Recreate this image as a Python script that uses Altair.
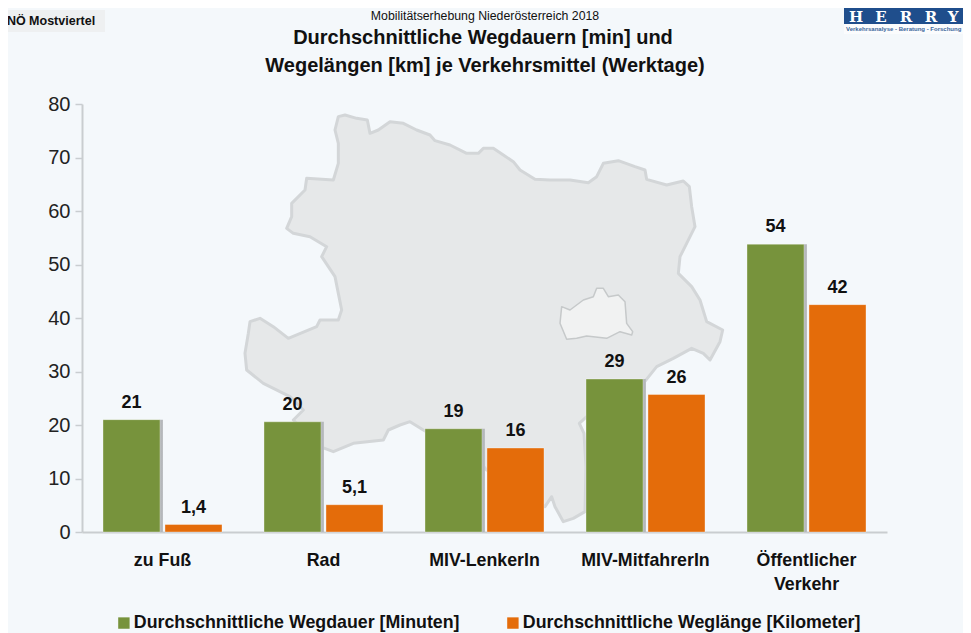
import altair as alt
import pandas as pd

categories = ["zu Fuß", "Rad", "MIV-LenkerIn", "MIV-MitfahrerIn", "Öffentlicher Verkehr"]
series_names = ["Durchschnittliche Wegdauer [Minuten]", "Durchschnittliche Weglänge [Kilometer]"]
dauer = [21.0, 20.6, 19.3, 28.6, 53.8]
laenge = [1.4, 5.1, 15.7, 25.7, 42.5]
dauer_labels = ["21", "20", "19", "29", "54"]
laenge_labels = ["1,4", "5,1", "16", "26", "42"]

land_x = [325,345,380,412,420,445,480,520,560,600,615,660,710,745,760,790,820,850,870,915,960,1020,1075,1100,1120,1165,1215,1245,1250,1310,1360,1378,1385,1395,1370,1350,1345,1385,1410,1430,1478,1470,1440,1420,1385,1330,1280,1240,1150,1070,1048,1062,1068,1065,1030,1000,975,965,945,770,752,580,540,510,475,460,370,310,270,190,220,180,100,50,45,55,60,90,130,175,260,270,325,335,325,315,275,290,240,190,170,185,185,225,230,310,325,325,315,325]
land_y = [50,45,55,60,100,90,65,70,90,105,122,135,160,160,145,145,165,185,210,238,240,240,248,230,190,182,200,210,238,255,243,260,320,380,430,470,520,560,600,665,690,725,780,760,745,775,800,850,900,950,970,1000,1100,1235,1255,1265,1220,1190,1220,1110,1090,990,965,975,990,1020,1030,1055,1040,960,930,890,850,810,760,700,665,655,680,715,680,660,660,630,580,530,470,440,410,400,385,350,310,270,235,240,190,130,90,50]
wien_x = [995,1020,1060,1090,1100,1120,1135,1165,1185,1190,1208,1205,1170,1130,1070,1040,1010,990,995]
wien_y = [620,630,600,590,565,565,590,585,605,670,695,705,695,715,708,715,718,670,620]

head_small = "Mobilitätserhebung Niederösterreich 2018"
head_lines = ["Durchschnittliche Wegdauern [min] und", "Wegelängen [km] je Verkehrsmittel (Werktage)"]
badge = "NÖ Mostviertel"
logo_letters = ["H", "E", "R", "R", "Y"]
logo_sub = "Verkehrsanalyse - Beratung - Forschung"

SANS = "Liberation Sans"
BG = "#f4f8fb"
GREEN = "#77933c"
ORANGE = "#e46c0a"
AX = "#c9cdd0"
OX, OY = 82, 104


def feature(xs, ys):
    return {"type": "Feature", "properties": {},
            "geometry": {"type": "Polygon", "coordinates": [[[a, b] for a, b in zip(xs, ys)]]}}


def shape(xs, ys, fill, stroke, sw):
    return alt.Chart(alt.Data(values=[feature(xs, ys)])).mark_geoshape(
        fill=fill, stroke=stroke, strokeWidth=sw, strokeJoin="round"
    ).project(type="identity", scale=1 / 3, translate=[230 - OX, 100 - OY])


def note(text, x, y, size, bold=False, color="#111111", font=SANS, align="center"):
    return alt.Chart(pd.DataFrame({"t": [text]})).mark_text(
        font=font, fontSize=size, fontWeight="bold" if bold else "normal",
        color=color, align=align, baseline="middle"
    ).encode(text="t:N", x=alt.value(x - OX), y=alt.value(y - OY))


def box(x0, x1, y0, y1, color):
    return alt.Chart(pd.DataFrame({"a": [0]})).mark_rect(color=color).encode(
        x=alt.value(x0 - OX), x2=alt.value(x1 - OX), y=alt.value(y0 - OY), y2=alt.value(y1 - OY))


rows = []
for i, c in enumerate(categories):
    rows.append({"cat": c, "series": series_names[0], "v": dauer[i], "lab": dauer_labels[i]})
    rows.append({"cat": c, "series": series_names[1], "v": laenge[i], "lab": laenge_labels[i]})
df = pd.DataFrame(rows)

x_axis = alt.Axis(labelAngle=0, labelFont=SANS, labelFontWeight="bold", labelFontSize=17.8,
                  labelColor="#111111", labelPadding=19, labelLineHeight=24, ticks=False,
                  domainColor=AX, domainWidth=2, labelLimit=200,
                  labelExpr="datum.label == 'Öffentlicher Verkehr' ? ['Öffentlicher', 'Verkehr'] : datum.label")
x_scale = alt.Scale(paddingInner=0.23, paddingOuter=0.115)
x_enc = alt.X("cat:N", sort=categories, title=None, scale=x_scale, axis=x_axis)
off_enc = alt.XOffset("series:N", sort=series_names,
                      scale=alt.Scale(paddingInner=0.08, paddingOuter=0.04))
y_enc = alt.Y("v:Q", title=None, scale=alt.Scale(domain=[0, 80], nice=False),
              axis=alt.Axis(values=[0, 10, 20, 30, 40, 50, 60, 70, 80], grid=False, labelFont=SANS,
                            labelFontSize=20, labelColor="#222222", labelPadding=5, tickSize=7,
                            tickColor=AX, tickWidth=1.5, domainColor=AX, domainWidth=2))

shadow_fill = alt.LinearGradient(
    gradient="linear", x1=0, x2=1, y1=0, y2=0,
    stops=[alt.GradientStop(color="rgba(170,173,176,0)", offset=0),
           alt.GradientStop(color="rgba(170,173,176,0)", offset=0.94),
           alt.GradientStop(color="rgba(170,173,176,1)", offset=0.95),
           alt.GradientStop(color="rgba(190,193,196,1)", offset=1)])
shadow = alt.Chart(df).transform_filter(alt.datum.series == series_names[0]).mark_bar(
    fill=shadow_fill, width=63).encode(x=x_enc, xOffset=off_enc, y=y_enc)
bars = alt.Chart(df).mark_bar(strokeWidth=1, strokeOpacity=0.35, stroke="#ffffff").encode(
    x=x_enc, xOffset=off_enc, y=y_enc,
    color=alt.Color("series:N", sort=series_names,
                    scale=alt.Scale(domain=series_names, range=[GREEN, ORANGE]),
                    legend=alt.Legend(orient="none", legendX=115 - OX, legendY=614 - OY, direction="horizontal",
                                      title=None, symbolType="square", symbolSize=130, symbolStrokeWidth=0,
                                      labelFont=SANS, labelFontWeight="bold", labelFontSize=17.8,
                                      labelColor="#111111", labelLimit=400, columnPadding=44, labelOffset=1)))
labels = alt.Chart(df).mark_text(font=SANS, fontWeight="bold", fontSize=18, color="#111111",
                                 baseline="middle", dy=-17).encode(
    x=x_enc, xOffset=off_enc, y=y_enc, text="lab:N")

logo_xs = [856, 881, 906, 931, 953]
layers = [
    shape(land_x, land_y, "#e6e8e9", "#d3d6d8", 3),
    shape(wien_x, wien_y, "#f1f2f2", "#c6c9ca", 1.5),
    shadow, bars, labels,
    box(8, 105, 10, 32, "#eef0f1"),
    note(badge, 51, 21, 12.5, True),
    note(head_small, 485, 16, 12.3),
    note(head_lines[0], 483, 38, 20, True),
    note(head_lines[1], 485, 66, 20, True),
    box(844, 963, 8, 34, "#fbfcfd"),
    box(844, 963, 8, 24, "#1f4e8c"),
]
layers += [note(t, x, 17, 15, True, "#ffffff", "DejaVu Serif") for t, x in zip(logo_letters, logo_xs)]
layers.append(note(logo_sub, 846, 29, 6, True, "#3b679c", SANS, "left"))

chart = alt.layer(*layers).properties(
    width=805, height=428, background=BG,
    padding={"left": OX - 8, "top": OY - 8, "right": 963 - OX - 805, "bottom": 625 - (OY - 8) - 428},
    autosize=alt.AutoSizeParams(type="none"),
).configure_view(stroke=None)

chart.save("out.html", embed_options={"renderer": "svg", "actions": False})
